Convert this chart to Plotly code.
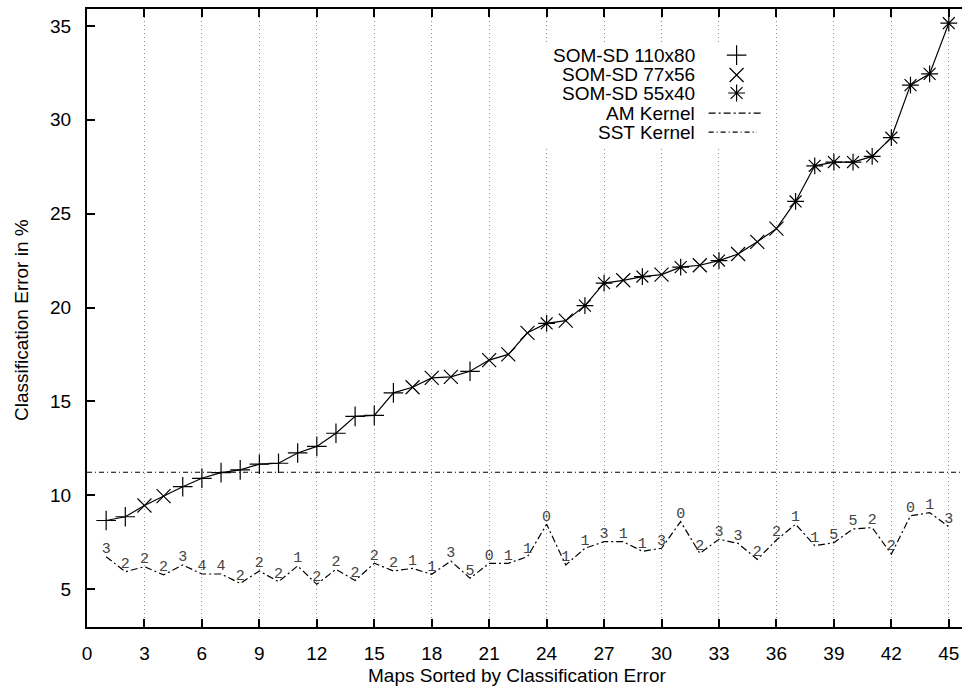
import plotly.graph_objects as go

# ---------------- data ----------------
maps = list(range(1, 46))

som_error = [8.65, 8.85, 9.45, 9.95, 10.45, 10.9, 11.2, 11.35, 11.65, 11.7,
             12.25, 12.6, 13.3, 14.2, 14.25, 15.45, 15.75, 16.25, 16.3, 16.6,
             17.2, 17.5, 18.65, 19.15, 19.3, 20.1, 21.3, 21.45, 21.65, 21.75,
             22.15, 22.25, 22.5, 22.85, 23.5, 24.2, 25.65, 27.55, 27.75, 27.75,
             28.05, 29.05, 31.85, 32.45, 35.15]

som_type = ["110x80", "110x80", "77x56", "77x56", "110x80", "110x80", "110x80", "110x80", "110x80", "110x80",
            "110x80", "110x80", "110x80", "110x80", "110x80", "110x80", "77x56", "77x56", "77x56", "110x80",
            "77x56", "77x56", "77x56", "55x40", "77x56", "55x40", "55x40", "77x56", "55x40", "77x56",
            "55x40", "77x56", "55x40", "77x56", "77x56", "77x56", "55x40", "55x40", "55x40", "55x40",
            "55x40", "55x40", "55x40", "55x40", "55x40"]

am_error = [6.72, 5.92, 6.19, 5.75, 6.28, 5.8, 5.8, 5.3, 5.96, 5.39,
            6.23, 5.25, 6.05, 5.45, 6.37, 5.96, 6.1, 5.78, 6.49, 5.57,
            6.37, 6.37, 6.72, 8.45, 6.28, 7.17, 7.52, 7.52, 7.01, 7.17,
            8.59, 6.9, 7.65, 7.43, 6.58, 7.61, 8.45, 7.31, 7.47, 8.2,
            8.27, 6.86, 8.9, 9.07, 8.32]

am_labels = ["3", "2", "2", "2", "3", "4", "4", "2", "2", "2",
             "1", "2", "2", "2", "2", "2", "1", "1", "3", "5",
             "0", "1", "1", "0", "1", "1", "3", "1", "1", "3",
             "0", "2", "3", "3", "2", "2", "1", "1", "5", "5",
             "2", "2", "0", "1", "3"]

sst_error = 11.22

series_names = {"110x80": "SOM-SD 110x80", "77x56": "SOM-SD 77x56", "55x40": "SOM-SD 55x40"}
series_symbols = {"110x80": "cross-thin-open", "77x56": "x-thin-open", "55x40": "asterisk-open"}

XMIN, XMAX = 0, 45.69
YMIN, YMAX = 2.975, 35.906
FONT = "Liberation Sans, Arial, Helvetica, sans-serif"
FS = 19
AM_DASH = "7px,3px,2px,3px"
SST_DASH = "5px,3px,1px,3px"

fig = go.Figure()

# SST kernel horizontal line
fig.add_trace(go.Scatter(x=[XMIN, XMAX], y=[sst_error, sst_error], mode="lines",
                         line=dict(color="black", width=1.2, dash=SST_DASH),
                         hoverinfo="skip", showlegend=False))

# AM kernel line with labels
fig.add_trace(go.Scatter(x=maps, y=am_error, mode="lines+text", text=am_labels,
                         textposition="top center",
                         textfont=dict(family="Liberation Mono, DejaVu Sans Mono, monospace",
                                       size=15, color="#444444"),
                         line=dict(color="black", width=1.2, dash=AM_DASH),
                         showlegend=False))

# SOM-SD connecting line
fig.add_trace(go.Scatter(x=maps, y=som_error, mode="lines",
                         line=dict(color="black", width=1.2), showlegend=False))

# SOM-SD markers by map size
for key in ["110x80", "77x56", "55x40"]:
    xs = [m for m, t in zip(maps, som_type) if t == key]
    ys = [v for v, t in zip(som_error, som_type) if t == key]
    fig.add_trace(go.Scatter(x=xs, y=ys, mode="markers", name=series_names[key],
                             marker=dict(symbol=series_symbols[key], size=14, color="black",
                                         line=dict(color="black", width=1.2)),
                             showlegend=False))

# ---------------- custom gnuplot-style key ----------------
key_text_x = 31.84
key_sample_x = 33.92
key_line_x = (32.46, 35.28)
key_rows = [33.45, 32.39, 31.43, 30.36, 29.35]

fig.add_shape(type="rect", x0=23.5, x1=35.6, y0=28.6, y1=34.1, layer="between",
              fillcolor="white", line=dict(width=0))

key_labels = ["SOM-SD 110x80", "SOM-SD 77x56", "SOM-SD 55x40", "AM Kernel", "SST Kernel"]
for lab, yy in zip(key_labels, key_rows):
    fig.add_annotation(x=key_text_x, y=yy, text=lab, showarrow=False, xanchor="right",
                       yanchor="middle", font=dict(family=FONT, size=FS, color="black"))

for key, yy in zip(["110x80", "77x56", "55x40"], key_rows[:3]):
    fig.add_trace(go.Scatter(x=[key_sample_x], y=[yy], mode="markers", hoverinfo="skip",
                             marker=dict(symbol=series_symbols[key], size=14, color="black",
                                         line=dict(color="black", width=1.2)),
                             showlegend=False))

fig.add_shape(type="line", x0=key_line_x[0], x1=key_line_x[1], y0=key_rows[3], y1=key_rows[3],
              line=dict(color="black", width=1.2, dash=AM_DASH))
fig.add_shape(type="line", x0=key_line_x[0], x1=key_line_x[1] - 0.3, y0=key_rows[4], y1=key_rows[4],
              line=dict(color="black", width=1.2, dash=SST_DASH))

# page pixel layout (body margin is removed below)
FIG_W, FIG_H = 962, 687
PLOT_L, PLOT_R, PLOT_T, PLOT_B = 87, 962, 9, 627
PW, PH = PLOT_R - PLOT_L, PLOT_B - PLOT_T

# axis titles as annotations (placed like gnuplot)
fig.add_annotation(xref="paper", yref="paper", x=(517 - PLOT_L) / PW, y=(PLOT_B - 675) / PH,
                   text="Maps Sorted by Classification Error", showarrow=False,
                   xanchor="center", yanchor="middle",
                   font=dict(family=FONT, size=FS, color="black"))
fig.add_annotation(xref="paper", yref="paper", x=(21 - PLOT_L) / PW, y=(PLOT_B - 320) / PH,
                   text="Classification Error in %", showarrow=False, textangle=-90,
                   xanchor="center", yanchor="middle",
                   font=dict(family=FONT, size=FS, color="black"))

# ---------------- axes & layout ----------------
fig.update_xaxes(range=[XMIN, XMAX], tick0=0, dtick=3, ticks="inside", ticklen=8, tickwidth=2,
                 tickcolor="black", showline=True, linecolor="black", linewidth=2,
                 mirror="ticks", showgrid=True, gridcolor="#8c8c8c", griddash="1px,3px",
                 gridwidth=1, zeroline=False, ticklabelstandoff=8, automargin=False,
                 tickfont=dict(family=FONT, size=FS, color="black"))
fig.update_yaxes(range=[YMIN, YMAX], tickvals=[5, 10, 15, 20, 25, 30, 35], ticks="inside",
                 ticklen=8, tickwidth=2, tickcolor="black", showline=True, linecolor="black",
                 linewidth=2, mirror=True, showgrid=False, zeroline=False,
                 ticklabelstandoff=10, automargin=False,
                 tickfont=dict(family=FONT, size=FS, color="black"))

fig.update_layout(width=FIG_W, height=FIG_H, autosize=False,
                  margin=dict(l=PLOT_L, r=FIG_W - PLOT_R, t=PLOT_T, b=FIG_H - PLOT_B),
                  paper_bgcolor="white", plot_bgcolor="white",
                  showlegend=False, hovermode=False)

fig.write_html("out.html",
               config={"displayModeBar": False},
               post_script="document.body.style.margin='0';"
                           "document.body.style.overflow='hidden';"
                           "document.documentElement.style.overflow='hidden';")
